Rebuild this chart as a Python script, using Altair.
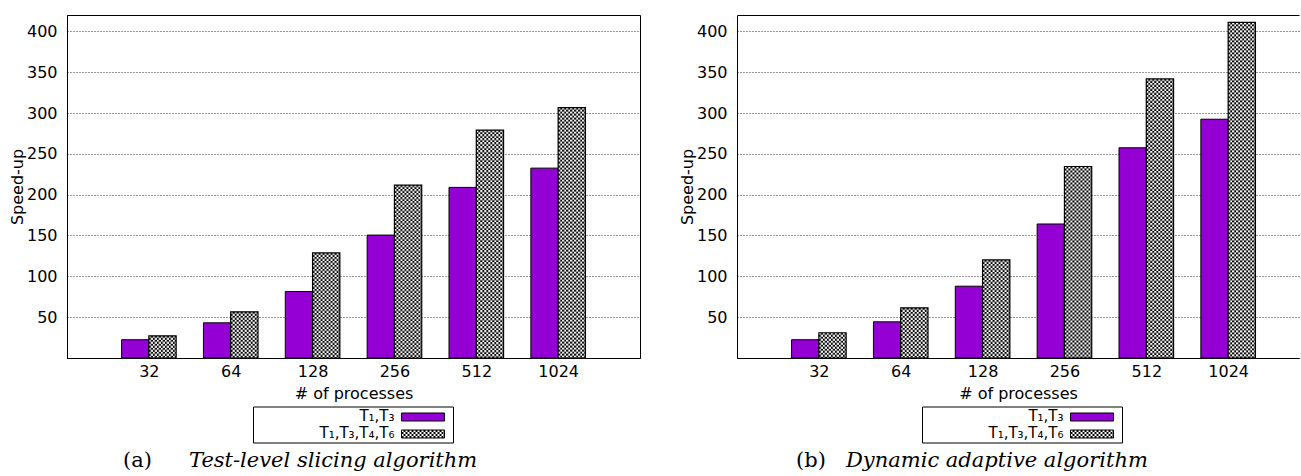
import json
import base64
import altair as alt
import pandas as pd

# ---------------- data ----------------
processes = ["32", "64", "128", "256", "512", "1024"]
series_names = ["T₁,T₃", "T₁,T₃,T₄,T₆"]
slicing_t13 = [22.4, 43.1, 81.4, 150.5, 208.9, 232.5]
slicing_t1346 = [27.2, 56.6, 128.7, 211.8, 279.0, 306.6]
adaptive_t13 = [22.4, 44.3, 87.9, 164.1, 257.4, 292.4]
adaptive_t1346 = [30.9, 61.4, 120.1, 234.5, 341.7, 411.0]
y_tick_values = [50, 100, 150, 200, 250, 300, 350, 400]
caption_tags = ["(a)", "(b)"]
caption_names = ["Test-level slicing algorithm", "Dynamic adaptive algorithm"]
x_title = "# of processes"
y_title = "Speed-up"

# ---------------- styles ----------------
PURPLE = "#9400D3"
FONT = "DejaVu Sans"
SERIF = "DejaVu Serif"
PLOT_H = 343
LEFT_W = 573
RIGHT_W = 562
STEP = LEFT_W / 7.0
LEG_H = 119

_svg = (
    '<svg xmlns="http://www.w3.org/2000/svg" width="100%" height="100%">'
    '<defs><pattern id="c" width="4" height="4" patternUnits="userSpaceOnUse">'
    '<rect width="4" height="4" fill="#000"/>'
    '<rect width="2" height="2" fill="#fff"/>'
    '<rect x="2" y="2" width="2" height="2" fill="#fff"/>'
    '</pattern></defs>'
    '<rect width="100%" height="100%" fill="url(#c)"/></svg>'
)
PATTERN_URL = "data:image/svg+xml;base64," + base64.b64encode(_svg.encode()).decode()


def frame(v1, v2):
    rows = []
    for i, p in enumerate(processes):
        for k, vals in enumerate((v1, v2)):
            rows.append({"procs": p, "idx": i, "k": k,
                         "series": series_names[k], "value": vals[i]})
    return pd.DataFrame(rows)


def plot_panel(df, width, open_right):
    xmax = -1 + width / STEP
    xscale = alt.Scale(domain=[-1, xmax], nice=False, zero=False)
    yscale = alt.Scale(domain=[0, 420], nice=False, zero=True)
    x_axis = alt.Axis(
        values=list(range(len(processes))),
        labelExpr=f"{json.dumps(processes)}[datum.value]",
        title=x_title, grid=False, ticks=False, domain=True,
        domainColor="black", domainWidth=1, labelPadding=5,
        titlePadding=6, labelFlush=False, labelOverlap=False,
    )
    y_axis = alt.Axis(
        values=y_tick_values, title=y_title, grid=True, gridColor="#333333",
        gridDash=[1, 2], gridWidth=1, ticks=False, domain=True,
        domainColor="black", domainWidth=1, labelPadding=10,
        titleX=-50, titleY=PLOT_H / 2, titleAngle=270,
        titleAlign="center", titleBaseline="middle",
    )
    base = (
        alt.Chart(df)
        .transform_calculate(x0="datum.idx - 1/3 + datum.k/3",
                             x1="datum.idx + datum.k/3")
        .encode(
            x=alt.X("x0:Q", scale=xscale, axis=x_axis),
            x2="x1:Q",
            y=alt.Y("value:Q", scale=yscale, axis=y_axis),
            y2=alt.datum(0),
        )
    )
    purple = base.transform_filter("datum.k == 0").mark_rect(
        fill=PURPLE, stroke="black", strokeWidth=1)
    chk_fill = base.transform_filter("datum.k == 1").mark_rect(fill="#7a7a7a")
    chk_img = base.transform_filter("datum.k == 1").mark_image(aspect=False).encode(
        url=alt.value(PATTERN_URL))
    chk_edge = base.transform_filter("datum.k == 1").mark_rect(
        fill="transparent", stroke="black", strokeWidth=1.2)
    if open_right:
        view = alt.ViewBackground(stroke="black", strokeWidth=1,
                                  strokeDash=[width, PLOT_H])
    else:
        view = alt.ViewBackground(stroke="black", strokeWidth=1)
    return alt.layer(purple, chk_fill, chk_img, chk_edge).properties(
        width=width, height=PLOT_H, view=view)


def legend_panel(width, center, tag, name, tag_x, name_x):
    leg_df = pd.DataFrame({"series": series_names, "k": [0, 1]})
    ych = alt.Y("series:N",
                scale=alt.Scale(type="point", domain=series_names,
                                range=[59, 76], padding=0),
                axis=None)
    one = pd.DataFrame({"tag": [tag], "name": [name]})
    box = alt.Chart(one).mark_rect(fill="transparent", stroke="black",
                                   strokeWidth=1).encode(
        x=alt.value(center - 100), x2=alt.value(center + 100),
        y=alt.value(49), y2=alt.value(85))
    labels = alt.Chart(leg_df).mark_text(
        align="right", baseline="alphabetic", dy=4, fontSize=15,
        font=FONT, color="black").encode(
        x=alt.value(center + 41), y=ych, text="series:N")
    sw1 = alt.Chart(leg_df).transform_filter("datum.k == 0").mark_rect(
        fill=PURPLE, stroke="black", strokeWidth=1, height=8).encode(
        x=alt.value(center + 48), x2=alt.value(center + 91), y=ych)
    sw2f = alt.Chart(leg_df).transform_filter("datum.k == 1").mark_rect(
        fill="#7a7a7a", height=8).encode(
        x=alt.value(center + 48), x2=alt.value(center + 91), y=ych)
    sw2i = alt.Chart(leg_df).transform_filter("datum.k == 1").mark_image(
        aspect=False, width=43, height=8, align="left", baseline="middle").encode(
        x=alt.value(center + 48), y=ych, url=alt.value(PATTERN_URL))
    sw2e = alt.Chart(leg_df).transform_filter("datum.k == 1").mark_rect(
        fill="transparent", stroke="black", strokeWidth=1, height=8).encode(
        x=alt.value(center + 48), x2=alt.value(center + 91), y=ych)
    cap_tag = alt.Chart(one).mark_text(
        align="left", baseline="alphabetic", font=SERIF, fontSize=21,
        color="black").encode(x=alt.value(tag_x), y=alt.value(109), text="tag:N")
    cap_name = alt.Chart(one).mark_text(
        align="left", baseline="alphabetic", font=SERIF, fontSize=21,
        fontStyle="italic", color="black").encode(
        x=alt.value(name_x), y=alt.value(109), text="name:N")
    return alt.layer(box, labels, sw1, sw2f, sw2i, sw2e, cap_tag, cap_name).properties(
        width=width, height=LEG_H)


panel_a = alt.vconcat(
    plot_panel(frame(slicing_t13, slicing_t1346), LEFT_W, False),
    legend_panel(LEFT_W, 286.5, caption_tags[0], caption_names[0], 56, 122),
    spacing=0, bounds="flush",
)
panel_b = alt.vconcat(
    plot_panel(frame(adaptive_t13, adaptive_t1346), RIGHT_W, True),
    legend_panel(RIGHT_W, 285.5, caption_tags[1], caption_names[1], 59, 109),
    spacing=0, bounds="flush",
)

chart = (
    alt.hconcat(panel_a, panel_b, spacing=37)
    .properties(padding={"left": 8, "top": 14, "right": 0, "bottom": 0})
    .configure(font=FONT)
    .configure_axis(labelFont=FONT, titleFont=FONT, labelFontSize=16,
                    titleFontSize=16, labelColor="black", titleColor="black",
                    titleFontWeight="normal")
    .configure_view(stroke="transparent")
)

chart.save("out.html", embed_options={"renderer": "svg", "actions": False})
